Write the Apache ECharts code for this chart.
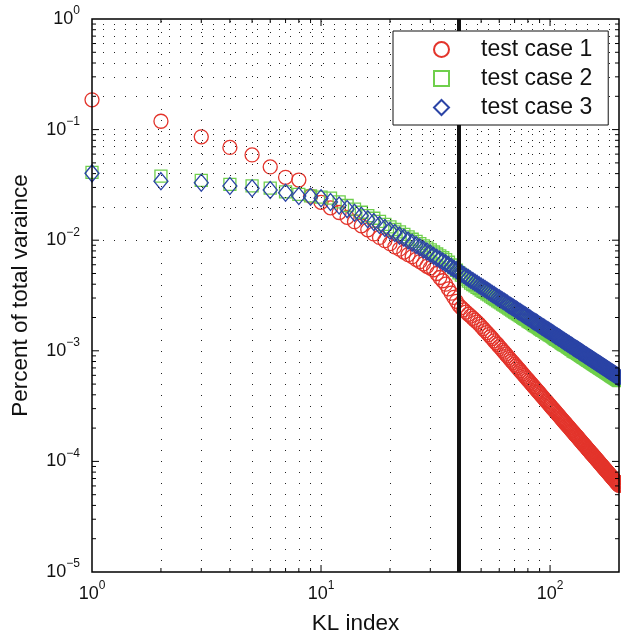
<!DOCTYPE html>
<html><head><meta charset="utf-8">
<script src="https://cdn.jsdelivr.net/npm/echarts@6/dist/echarts.min.js"></script>
<style>html,body{margin:0;padding:0;background:#fff}#c{width:621px;height:640px}</style>
</head><body><div id="c"></div>
<script>
// KL index 1..200
const klIndex = Array.from({length: 200}, (_, i) => i + 1);

const seriesNames = ['test case 1', 'test case 2', 'test case 3'];

const case1 = [
0.186, 0.119, 0.086, 0.069, 0.059, 0.046, 0.037, 0.035, 0.025, 0.022,
0.0196, 0.0178, 0.0161, 0.0147, 0.0135, 0.0124, 0.0114, 0.0106, 0.0099, 0.0093,
0.0087, 0.0083, 0.0078, 0.0074, 0.0071, 0.0067, 0.0064, 0.0061, 0.0058, 0.0056,
0.0054, 0.0050, 0.0046, 0.0043, 0.0040, 0.00363, 0.00332, 0.00304, 0.0028, 0.00257,
0.00245, 0.00234, 0.00224, 0.00214, 0.00206, 0.00197, 0.00189, 0.00182, 0.00174, 0.00166,
0.00159, 0.00152, 0.00146, 0.0014, 0.00134, 0.00129, 0.00123, 0.00118, 0.00114, 0.00109,
0.00105, 0.00101, 0.000971, 0.000935, 0.000901, 0.000869, 0.000838, 0.000808, 0.000781, 0.000754,
0.000729, 0.000705, 0.000682, 0.00066, 0.000639, 0.000619, 0.0006, 0.000582, 0.000564, 0.000547,
0.000531, 0.000516, 0.000501, 0.000487, 0.000473, 0.00046, 0.000448, 0.000435, 0.000424, 0.000413,
0.000402, 0.000391, 0.000381, 0.000372, 0.000362, 0.000353, 0.000345, 0.000336, 0.000328, 0.00032,
0.000313, 0.000305, 0.000299, 0.000292, 0.000285, 0.000279, 0.000272, 0.000266, 0.000261, 0.000255,
0.000249, 0.000244, 0.000239, 0.000234, 0.000229, 0.000224, 0.00022, 0.000215, 0.000211, 0.000207,
0.000203, 0.000199, 0.000195, 0.000191, 0.000188, 0.000184, 0.000181, 0.000177, 0.000174, 0.000171,
0.000168, 0.000165, 0.000162, 0.000159, 0.000156, 0.000153, 0.000151, 0.000148, 0.000145, 0.000143,
0.000141, 0.000138, 0.000136, 0.000134, 0.000131, 0.000129, 0.000127, 0.000125, 0.000123, 0.000121,
0.000119, 0.000117, 0.000116, 0.000114, 0.000112, 0.00011, 0.000109, 0.000107, 0.000105, 0.000104,
0.000102, 0.000101, 9.92e-5, 9.78e-5, 9.63e-5, 9.49e-5, 9.36e-5, 9.23e-5, 9.09e-5, 8.97e-5,
8.84e-5, 8.72e-5, 8.6e-5, 8.48e-5, 8.37e-5, 8.25e-5, 8.14e-5, 8.03e-5, 7.92e-5, 7.82e-5,
7.71e-5, 7.61e-5, 7.51e-5, 7.42e-5, 7.32e-5, 7.23e-5, 7.14e-5, 7.04e-5, 6.95e-5, 6.87e-5,
6.78e-5, 6.7e-5, 6.61e-5, 6.53e-5, 6.45e-5, 6.37e-5, 6.29e-5, 6.22e-5, 6.14e-5, 6.07e-5
];

const case2 = [
0.041, 0.038, 0.0347, 0.032, 0.031, 0.0296, 0.0273, 0.026, 0.0252, 0.0245,
0.024, 0.0222, 0.0206, 0.0191, 0.0179, 0.0167, 0.0158, 0.0148, 0.0139, 0.0132,
0.0125, 0.0119, 0.0113, 0.0107, 0.0102, 0.00976, 0.00932, 0.0089, 0.00852, 0.00818,
0.00782, 0.0075, 0.00721, 0.00694, 0.00667, 0.00632, 0.00597, 0.00564, 0.00535, 0.00506,
0.00484, 0.00465, 0.00445, 0.00427, 0.00409, 0.00397, 0.00386, 0.00375, 0.00365, 0.00354,
0.00345, 0.00337, 0.00327, 0.0032, 0.00312, 0.00304, 0.00297, 0.0029, 0.00283, 0.00277,
0.00271, 0.00265, 0.00259, 0.00254, 0.00248, 0.00243, 0.00238, 0.00233, 0.00229, 0.00224,
0.0022, 0.00216, 0.00212, 0.00208, 0.00205, 0.00201, 0.00197, 0.00193, 0.00191, 0.00187,
0.00184, 0.00181, 0.00178, 0.00175, 0.00172, 0.00169, 0.00167, 0.00165, 0.00162, 0.00159,
0.00157, 0.00154, 0.00153, 0.00151, 0.00148, 0.00146, 0.00144, 0.00142, 0.0014, 0.00139,
0.00137, 0.00135, 0.00133, 0.00131, 0.00129, 0.00127, 0.00126, 0.00125, 0.00123, 0.00122,
0.0012, 0.00118, 0.00117, 0.00115, 0.00114, 0.00113, 0.00112, 0.00111, 0.00109, 0.00108,
0.00107, 0.00105, 0.00104, 0.00103, 0.00102, 0.001, 0.000995, 0.000986, 0.000977, 0.000967,
0.000958, 0.000949, 0.000939, 0.000928, 0.000919, 0.00091, 0.0009, 0.000892, 0.000883, 0.000874,
0.000866, 0.000857, 0.000849, 0.000842, 0.000833, 0.000826, 0.000818, 0.00081, 0.000804, 0.000796,
0.000789, 0.000782, 0.000775, 0.000768, 0.000762, 0.000755, 0.000748, 0.000741, 0.000736, 0.000729,
0.000723, 0.000717, 0.000711, 0.000705, 0.000699, 0.000694, 0.000688, 0.000683, 0.000677, 0.000671,
0.000666, 0.000661, 0.000656, 0.000651, 0.000645, 0.000641, 0.000635, 0.000631, 0.000626, 0.000621,
0.000617, 0.000612, 0.000607, 0.000603, 0.000598, 0.000594, 0.00059, 0.000585, 0.000581, 0.000577,
0.000573, 0.000569, 0.000565, 0.000561, 0.000557, 0.000553, 0.00055, 0.000546, 0.000542, 0.000538
];

const case3 = [
0.0402, 0.0342, 0.0331, 0.0309, 0.0295, 0.0284, 0.0269, 0.0251, 0.0247, 0.0240,
0.0222, 0.0206, 0.0191, 0.0177, 0.0166, 0.0155, 0.0146, 0.0137, 0.0129, 0.0122,
0.0116, 0.011, 0.0105, 0.00995, 0.00948, 0.00904, 0.00863, 0.00824, 0.00789, 0.00757,
0.00724, 0.00695, 0.00668, 0.00643, 0.00618, 0.00596, 0.00574, 0.00553, 0.00535, 0.00516,
0.00499, 0.00484, 0.00468, 0.00454, 0.0044, 0.00427, 0.00415, 0.00403, 0.00392, 0.00381,
0.00371, 0.00362, 0.00352, 0.00344, 0.00335, 0.00327, 0.00319, 0.00312, 0.00304, 0.00298,
0.00291, 0.00285, 0.00279, 0.00273, 0.00267, 0.00261, 0.00256, 0.00251, 0.00246, 0.00241,
0.00237, 0.00232, 0.00228, 0.00224, 0.0022, 0.00216, 0.00212, 0.00208, 0.00205, 0.00201,
0.00198, 0.00195, 0.00191, 0.00188, 0.00185, 0.00182, 0.0018, 0.00177, 0.00174, 0.00171,
0.00169, 0.00166, 0.00164, 0.00162, 0.00159, 0.00157, 0.00155, 0.00153, 0.00151, 0.00149,
0.00147, 0.00145, 0.00143, 0.00141, 0.00139, 0.00137, 0.00136, 0.00134, 0.00132, 0.00131,
0.00129, 0.00127, 0.00126, 0.00124, 0.00123, 0.00121, 0.0012, 0.00119, 0.00117, 0.00116,
0.00115, 0.00113, 0.00112, 0.00111, 0.0011, 0.00108, 0.00107, 0.00106, 0.00105, 0.00104,
0.00103, 0.00102, 0.00101, 0.000998, 0.000988, 0.000978, 0.000968, 0.000959, 0.000949, 0.00094,
0.000931, 0.000922, 0.000913, 0.000905, 0.000896, 0.000888, 0.00088, 0.000871, 0.000864, 0.000856,
0.000848, 0.000841, 0.000833, 0.000826, 0.000819, 0.000812, 0.000804, 0.000797, 0.000791, 0.000784,
0.000777, 0.000771, 0.000764, 0.000758, 0.000752, 0.000746, 0.00074, 0.000734, 0.000728, 0.000722,
0.000716, 0.000711, 0.000705, 0.0007, 0.000694, 0.000689, 0.000683, 0.000678, 0.000673, 0.000668,
0.000663, 0.000658, 0.000653, 0.000648, 0.000643, 0.000639, 0.000634, 0.000629, 0.000625, 0.00062,
0.000616, 0.000612, 0.000607, 0.000603, 0.000599, 0.000595, 0.000591, 0.000587, 0.000583, 0.000579
];

// axes
const xMin = 1, xMax = 200;
const yMin = 1e-5, yMax = 1;
const cutoffIndex = 40; // vertical reference line
const xTitle = 'KL index';
const yTitle = 'Percent of total varaince';

const FONT = '"Liberation Sans", Arial, Helvetica, sans-serif';
const RED = '#e3342b', GREEN = '#6fcf4c', BLUE = '#2b44a6';

// minor/major log positions for grid and ticks
function logPositions(lo, hi) {
  const out = [];
  for (let e = Math.floor(Math.log10(lo)); e <= Math.ceil(Math.log10(hi)); e++) {
    for (let m = 1; m <= 9; m++) {
      const v = m * Math.pow(10, e);
      if (v >= lo * 0.9999 && v <= hi * 1.0001) out.push({v: +v.toPrecision(6), major: m === 1});
    }
  }
  return out;
}
const xPos = logPositions(xMin, xMax);
const yPos = logPositions(yMin, yMax);

const gridLines = [];
xPos.forEach(p => { if (p.v > xMin && p.v < xMax) gridLines.push({xAxis: p.v}); });
yPos.forEach(p => { if (p.v > yMin && p.v < yMax) gridLines.push({yAxis: p.v}); });

const tickData = [];
xPos.forEach(p => {
  if (p.v <= xMin || p.v >= xMax) return;
  const L = p.major ? 7 : 4;
  tickData.push([p.v, yMin, 0, L]);
  tickData.push([p.v, yMax, 1, L]);
});
yPos.forEach(p => {
  if (p.v <= yMin || p.v >= yMax) return;
  const L = p.major ? 7 : 4;
  tickData.push([xMin, p.v, 2, L]);
  tickData.push([xMax, p.v, 3, L]);
});

function powLabel(v) {
  const e = Math.log10(v);
  const r = Math.round(e);
  if (Math.abs(e - r) > 1e-6) return '';
  return '{b|10}{s|' + (r < 0 ? '\u2212' + (-r) : String(r)) + '}';
}
const rich = {
  b: {fontSize: 18, fontFamily: FONT, color: '#111', padding: [5, 0, 5, 0]},
  s: {fontSize: 12, fontFamily: FONT, color: '#111', verticalAlign: 'top'}
};

const chart = echarts.init(document.getElementById('c'), null, {renderer: 'canvas'});

function scatterSeries(name, values, symbol, size, color) {
  return {
    name, type: 'scatter', symbol, symbolSize: size, z: 2, clip: false,
    data: klIndex.map((k, i) => [k, values[i]]),
    itemStyle: {color: 'transparent', borderColor: color, borderWidth: 1.3, opacity: 1},
    emphasis: {disabled: true}
  };
}

chart.setOption({
  animation: false,
  backgroundColor: '#fff',
  grid: {left: 92, top: 19, width: 527, height: 555, show: true, borderColor: '#000', borderWidth: 1.5, backgroundColor: 'transparent', z: 3},
  xAxis: {
    type: 'log', logBase: 10, min: xMin, max: xMax,
    axisLine: {show: false}, axisTick: {show: false}, splitLine: {show: false},
    axisLabel: {formatter: powLabel, rich, margin: 8, showMaxLabel: false, showMinLabel: true},
    name: xTitle, nameLocation: 'middle', nameGap: 40,
    nameTextStyle: {fontSize: 22.5, fontFamily: FONT, color: '#111'}
  },
  yAxis: {
    type: 'log', logBase: 10, min: yMin, max: yMax,
    axisLine: {show: false}, axisTick: {show: false}, splitLine: {show: false},
    axisLabel: {formatter: powLabel, rich, margin: 12},
    name: yTitle, nameLocation: 'middle', nameGap: 60,
    nameTextStyle: {fontSize: 22.5, fontFamily: FONT, color: '#111'}
  },
  legend: {
    orient: 'vertical', left: 393, top: 31, z: 20,
    padding: [7, 16, 6, 40], itemGap: 6, itemWidth: 15, itemHeight: 15,
    backgroundColor: '#fff', borderColor: '#111', borderWidth: 1,
    textStyle: {fontSize: 23, fontFamily: FONT, color: '#111', padding: [0, 0, 0, 27]},
    selectedMode: false,
    data: [
      {name: seriesNames[0], icon: 'circle'},
      {name: seriesNames[1], icon: 'rect'},
      {name: seriesNames[2], icon: 'diamond'}
    ]
  },
  series: [
    {
      type: 'line', data: [], z: 1, silent: true,
      markLine: {silent: true, symbol: ['none', 'none'], label: {show: false}, animation: false,
        lineStyle: {type: [1, 10], color: '#222', width: 1}, emphasis: {disabled: true},
        data: gridLines}
    },
    {
      type: 'custom', z: 3, silent: true, data: tickData,
      encode: {x: 0, y: 1},
      renderItem: function (params, api) {
        const p = api.coord([api.value(0), api.value(1)]);
        const d = api.value(2), len = api.value(3);
        let x2 = p[0], y2 = p[1];
        if (d === 0) y2 -= len; else if (d === 1) y2 += len; else if (d === 2) x2 += len; else x2 -= len;
        return {type: 'line', shape: {x1: p[0], y1: p[1], x2: x2, y2: y2}, style: {stroke: '#000', lineWidth: 1}};
      }
    },
    scatterSeries(seriesNames[0], case1, 'circle', 14, RED),
    scatterSeries(seriesNames[1], case2, 'rect', 12, GREEN),
    scatterSeries(seriesNames[2], case3, 'diamond', [14, 17], BLUE),
    {
      type: 'line', data: [], z: 5, silent: true,
      markLine: {silent: true, symbol: ['none', 'none'], label: {show: false}, animation: false,
        lineStyle: {type: 'solid', color: '#111', width: 4}, emphasis: {disabled: true},
        data: [{xAxis: cutoffIndex}]}
    }
  ]
});
</script>
</body></html>
